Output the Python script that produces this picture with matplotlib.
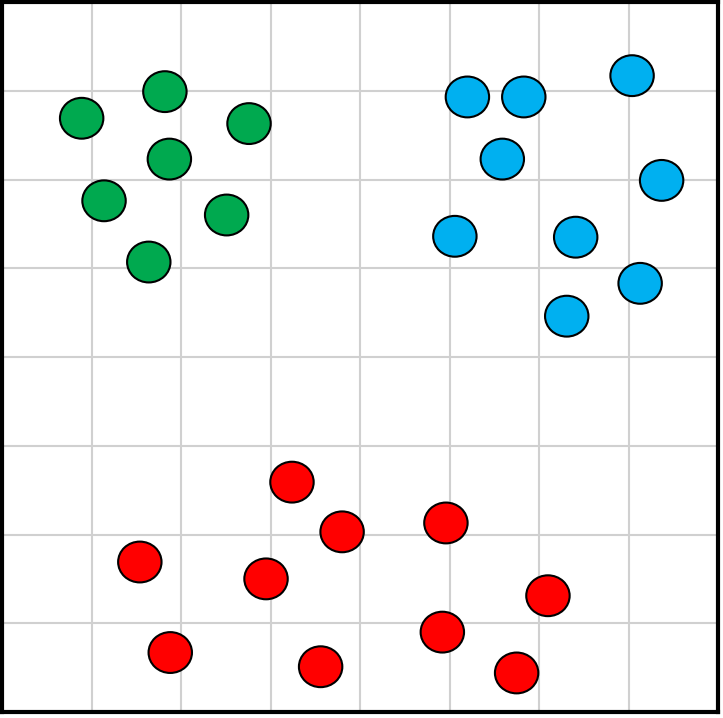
import matplotlib
matplotlib.use("Agg")
import matplotlib.pyplot as plt
from matplotlib.patches import Ellipse

green_x = [0.89, 1.82, 2.76, 1.87, 1.14, 2.51, 1.64]
green_y = [6.69, 6.99, 6.63, 6.23, 5.76, 5.60, 5.07]

blue_x = [5.20, 5.83, 7.04, 5.59, 7.37, 5.06, 6.41, 7.13, 6.31]
blue_y = [6.93, 6.93, 7.17, 6.23, 5.99, 5.36, 5.35, 4.83, 4.46]

red_x = [3.24, 3.80, 4.96, 1.54, 2.95, 6.10, 1.88, 3.56, 4.92, 5.75]
red_y = [2.59, 2.03, 2.13, 1.69, 1.50, 1.31, 0.67, 0.51, 0.90, 0.44]

groups = [
    (green_x, green_y, "#00A94F"),
    (blue_x, blue_y, "#00B0F0"),
    (red_x, red_y, "#FF0000"),
]

fig = plt.figure(figsize=(7.23, 7.18), dpi=100)
ax = fig.add_axes([2 / 723, 6 / 718, 716 / 723, 710 / 718])
ax.set_xlim(0, 8)
ax.set_ylim(0, 8)

ax.set_xticks(range(1, 8))
ax.set_yticks(range(1, 8))
ax.tick_params(length=0, labelbottom=False, labelleft=False)
ax.grid(True, color="#d0d0d0", linewidth=1.5)
ax.set_axisbelow(True)

for xs, ys, col in groups:
    for x, y in zip(xs, ys):
        ax.add_patch(Ellipse((x, y), 0.485, 0.46, facecolor=col,
                             edgecolor="black", linewidth=1.5, zorder=3))

for sp in ax.spines.values():
    sp.set_linewidth(3)
    sp.set_color("black")

fig.savefig("out.png", dpi=100)
